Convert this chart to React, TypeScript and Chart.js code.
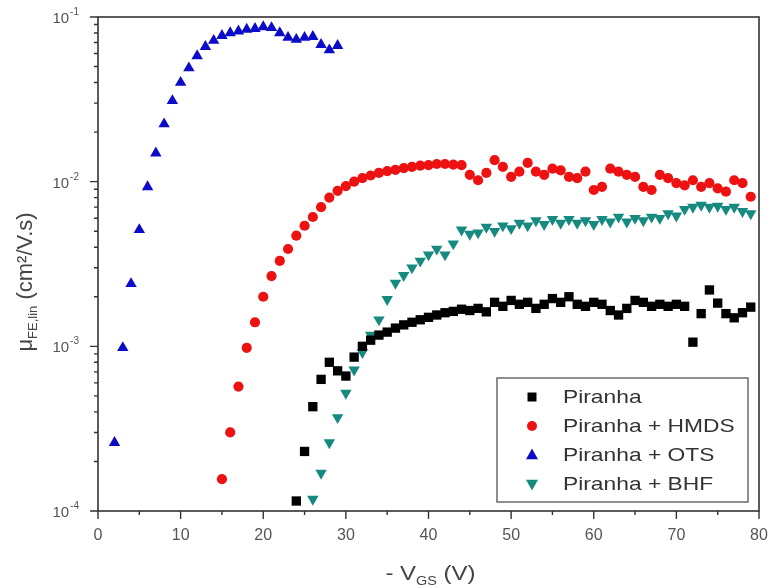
import { useEffect, useRef } from 'react';
import { Chart, registerables } from 'chart.js';

Chart.register(...registerables);

// ---------------- data ----------------
const seriesLabels = ['Piranha', 'Piranha + HMDS', 'Piranha + OTS', 'Piranha + BHF'];
const seriesColors = ['#000000', '#ee1111', '#0c0cc8', '#178a80'];

// Piranha + OTS (blue triangles)
const vgsOts = [2, 3, 4, 5, 6, 7, 8, 9, 10, 11, 12, 13, 14, 15, 16, 17, 18, 19, 20, 21, 22, 23, 24, 25, 26, 27, 28, 29];
const muOts = [2.6e-4, 9.8e-4, 2.4e-3, 5.1e-3, 9.3e-3, 0.0149, 0.0224, 0.031, 0.040, 0.049, 0.058, 0.066, 0.072, 0.077,
  0.080, 0.082, 0.084, 0.085, 0.087, 0.086, 0.080, 0.075, 0.073, 0.075, 0.076, 0.068, 0.063, 0.067];

// Piranha + HMDS (red circles)
const vgsHmds = [15, 16, 17, 18, 19, 20, 21, 22, 23, 24, 25, 26, 27, 28, 29, 30, 31, 32, 33, 34, 35, 36, 37, 38, 39, 40,
  41, 42, 43, 44, 45, 46, 47, 48, 49, 50, 51, 52, 53, 54, 55, 56, 57, 58, 59, 60, 61, 62, 63, 64, 65, 66, 67, 68, 69, 70,
  71, 72, 73, 74, 75, 76, 77, 78, 79];
const muHmds = [1.56e-4, 3.0e-4, 5.7e-4, 9.8e-4, 1.4e-3, 2.0e-3, 2.67e-3, 3.3e-3, 3.9e-3, 4.7e-3, 5.4e-3, 6.1e-3, 7.0e-3,
  8.0e-3, 8.8e-3, 9.4e-3, 0.0100, 0.0105, 0.0109, 0.0113, 0.0116, 0.0118, 0.0121, 0.0123, 0.0125, 0.0126,
  0.0128, 0.0128, 0.0127, 0.0126, 0.0110, 0.0102, 0.0113, 0.0135, 0.0123, 0.0107, 0.0115, 0.0130, 0.0115, 0.0110,
  0.0120, 0.0117, 0.0107, 0.0105, 0.0115, 0.0089, 0.0093, 0.0120, 0.0115, 0.0110, 0.0107, 0.0093, 0.0089, 0.0110,
  0.0105, 0.0098, 0.0095, 0.0102, 0.0093, 0.0098, 0.0091, 0.0087, 0.0102, 0.0098, 0.0081];

// Piranha + BHF (teal down triangles)
const vgsBhf = [26, 27, 28, 29, 30, 31, 32, 33, 34, 35, 36, 37, 38, 39, 40, 41, 42, 43, 44, 45, 46, 47, 48, 49, 50, 51,
  52, 53, 54, 55, 56, 57, 58, 59, 60, 61, 62, 63, 64, 65, 66, 67, 68, 69, 70, 71, 72, 73, 74, 75, 76, 77, 78, 79];
const muBhf = [1.18e-4, 1.7e-4, 2.6e-4, 3.7e-4, 5.2e-4, 7.2e-4, 9.2e-4, 1.17e-3, 1.45e-3, 1.93e-3, 2.42e-3, 2.7e-3,
  3.0e-3, 3.3e-3, 3.6e-3, 3.9e-3, 3.6e-3, 4.2e-3, 5.1e-3, 4.8e-3, 4.9e-3, 5.3e-3, 5.0e-3, 5.4e-3, 5.2e-3, 5.6e-3,
  5.4e-3, 5.8e-3, 5.5e-3, 5.9e-3, 5.6e-3, 5.9e-3, 5.6e-3, 5.8e-3, 5.5e-3, 5.9e-3, 5.7e-3, 6.1e-3, 5.7e-3, 6.0e-3,
  5.8e-3, 6.1e-3, 6.0e-3, 6.4e-3, 6.2e-3, 6.8e-3, 7.0e-3, 7.2e-3, 7.0e-3, 7.1e-3, 6.8e-3, 7.0e-3, 6.6e-3, 6.4e-3];

// Piranha (black squares)
const vgsPiranha = [24, 25, 26, 27, 28, 29, 30, 31, 32, 33, 34, 35, 36, 37, 38, 39, 40, 41, 42, 43, 44, 45, 46, 47, 48,
  49, 50, 51, 52, 53, 54, 55, 56, 57, 58, 59, 60, 61, 62, 63, 64, 65, 66, 67, 68, 69, 70, 71, 72, 73, 74, 75, 76, 77,
  78, 79];
const muPiranha = [1.15e-4, 2.3e-4, 4.3e-4, 6.3e-4, 8.0e-4, 7.1e-4, 6.6e-4, 8.6e-4, 1.0e-3, 1.09e-3, 1.17e-3, 1.22e-3,
  1.29e-3, 1.35e-3, 1.4e-3, 1.45e-3, 1.5e-3, 1.55e-3, 1.6e-3, 1.63e-3, 1.68e-3, 1.65e-3, 1.7e-3, 1.62e-3, 1.85e-3,
  1.75e-3, 1.9e-3, 1.8e-3, 1.85e-3, 1.7e-3, 1.8e-3, 1.95e-3, 1.85e-3, 2.0e-3, 1.8e-3, 1.75e-3, 1.85e-3, 1.8e-3,
  1.65e-3, 1.55e-3, 1.7e-3, 1.9e-3, 1.85e-3, 1.75e-3, 1.8e-3, 1.75e-3, 1.8e-3, 1.75e-3, 1.06e-3, 1.58e-3, 2.2e-3,
  1.83e-3, 1.58e-3, 1.49e-3, 1.6e-3, 1.73e-3];

// axes / ticks
const xMin = 0;
const xMax = 80;
const xMajorTicks = [0, 10, 20, 30, 40, 50, 60, 70, 80];
const xMinorTicks = [5, 15, 25, 35, 45, 55, 65, 75];
const yMin = 1e-4;
const yMax = 1e-1;
const yMajorTicks = [1e-4, 1e-3, 1e-2, 1e-1];
const yTickExponents = ['-4', '-3', '-2', '-1'];
const yMinorMultipliers = [2, 3, 4, 5, 6, 7, 8, 9];

const FONT = '"Liberation Sans", Arial, sans-serif';

function toPoints(xs: number[], ys: number[]) {
  return xs.map((x, i) => ({ x, y: ys[i] }));
}

function drawMarker(ctx: CanvasRenderingContext2D, style: string, x: number, y: number, r: number, color: string) {
  ctx.fillStyle = color;
  ctx.beginPath();
  if (style === 'rect') {
    ctx.rect(x - r, y - r, 2 * r, 2 * r);
  } else if (style === 'circle') {
    ctx.arc(x, y, r, 0, Math.PI * 2);
  } else if (style === 'up') {
    ctx.moveTo(x, y - r * 1.1);
    ctx.lineTo(x + r, y + r * 0.7);
    ctx.lineTo(x - r, y + r * 0.7);
    ctx.closePath();
  } else {
    ctx.moveTo(x, y + r * 1.1);
    ctx.lineTo(x + r, y - r * 0.7);
    ctx.lineTo(x - r, y - r * 0.7);
    ctx.closePath();
  }
  ctx.fill();
}

const decorPlugin = {
  id: 'decor',
  beforeDatasetsDraw(chart: any) {
    const { ctx, chartArea: a, scales } = chart;
    const xs = scales.x;
    const ys = scales.y;
    ctx.save();
    ctx.strokeStyle = '#333';
    ctx.lineWidth = 1.6;
    ctx.strokeRect(a.left, a.top, a.right - a.left, a.bottom - a.top);

    ctx.lineWidth = 1.4;
    ctx.beginPath();
    // y ticks (outward, left)
    yMajorTicks.forEach((v, i) => {
      const py = ys.getPixelForValue(v);
      ctx.moveTo(a.left - 8, py);
      ctx.lineTo(a.left, py);
      if (i < yMajorTicks.length - 1) {
        yMinorMultipliers.forEach((m) => {
          const pm = ys.getPixelForValue(v * m);
          ctx.moveTo(a.left - 4, pm);
          ctx.lineTo(a.left, pm);
        });
      }
    });
    // x ticks (outward, down)
    xMajorTicks.forEach((v) => {
      const px = xs.getPixelForValue(v);
      ctx.moveTo(px, a.bottom);
      ctx.lineTo(px, a.bottom + 8);
    });
    xMinorTicks.forEach((v) => {
      const px = xs.getPixelForValue(v);
      ctx.moveTo(px, a.bottom);
      ctx.lineTo(px, a.bottom + 4);
    });
    ctx.stroke();

    // y tick labels 10^n
    ctx.fillStyle = '#555';
    ctx.textBaseline = 'alphabetic';
    ctx.textAlign = 'left';
    yMajorTicks.forEach((v, i) => {
      const py = ys.getPixelForValue(v);
      ctx.font = `10px ${FONT}`;
      const supW = ctx.measureText(yTickExponents[i]).width;
      ctx.font = `15px ${FONT}`;
      const baseW = ctx.measureText('10').width;
      const right = a.left - 19;
      const x0 = right - supW - baseW - 1;
      ctx.fillText('10', x0, py + 6);
      ctx.font = `10px ${FONT}`;
      ctx.fillText(yTickExponents[i], x0 + baseW + 1, py - 2);
    });

    // x axis title: - V_GS (V)
    ctx.fillStyle = '#444';
    const sx = 1.2;
    ctx.font = `20px ${FONT}`;
    const p1 = '- V';
    const p3 = ' (V)';
    const w1 = ctx.measureText(p1).width;
    const w3 = ctx.measureText(p3).width;
    ctx.font = `12px ${FONT}`;
    const w2 = ctx.measureText('GS').width;
    const total = (w1 + w2 + w3) * sx;
    const cx = (a.left + a.right) / 2 + 2;
    const by = a.bottom + 69;
    ctx.save();
    ctx.translate(cx - total / 2, by);
    ctx.scale(sx, 1);
    ctx.font = `20px ${FONT}`;
    ctx.fillText(p1, 0, 0);
    ctx.font = `12px ${FONT}`;
    ctx.fillText('GS', w1, 5);
    ctx.font = `20px ${FONT}`;
    ctx.fillText(p3, w1 + w2, 0);
    ctx.restore();

    // y axis title: μ_FE,lin (cm²/V.s)
    ctx.save();
    ctx.translate(32, (a.top + a.bottom) / 2 + 18);
    ctx.rotate(-Math.PI / 2);
    ctx.font = `22px ${FONT}`;
    const q1 = 'μ';
    const q3 = ' (cm²/V.s)';
    const v1 = ctx.measureText(q1).width;
    const v3 = ctx.measureText(q3).width;
    ctx.font = `13px ${FONT}`;
    const v2 = ctx.measureText('FE,lin').width;
    const tot = v1 + v2 + v3;
    ctx.font = `22px ${FONT}`;
    ctx.fillText(q1, -tot / 2, 0);
    ctx.font = `13px ${FONT}`;
    ctx.fillText('FE,lin', -tot / 2 + v1, 5);
    ctx.font = `22px ${FONT}`;
    ctx.fillText(q3, -tot / 2 + v1 + v2, 0);
    ctx.restore();

    ctx.restore();
  },
  afterDraw(chart: any) {
    const { ctx, chartArea: a } = chart;
    const bw = 251;
    const bh = 124;
    const bx = a.right - 11 - bw;
    const by = a.bottom - 9 - bh;
    ctx.save();
    ctx.fillStyle = '#ffffff';
    ctx.fillRect(bx, by, bw, bh);
    ctx.strokeStyle = '#555';
    ctx.lineWidth = 1.3;
    ctx.strokeRect(bx, by, bw, bh);
    const styles = ['rect', 'circle', 'up', 'down'];
    const sizes = [4.5, 5, 6, 6];
    seriesLabels.forEach((label, i) => {
      const cy = by + 19 + i * 29;
      drawMarker(ctx, styles[i], bx + 35, cy, sizes[i], seriesColors[i]);
      ctx.save();
      ctx.translate(bx + 66, cy);
      ctx.scale(1.2, 1);
      ctx.fillStyle = '#333';
      ctx.font = `19px ${FONT}`;
      ctx.textBaseline = 'middle';
      ctx.textAlign = 'left';
      ctx.fillText(label, 0, 1);
      ctx.restore();
    });
    ctx.restore();
  },
};

export default function App() {
  const canvasRef = useRef<HTMLCanvasElement | null>(null);

  useEffect(() => {
    if (!canvasRef.current) return;
    const common = { showLine: false, pointBorderWidth: 0, borderWidth: 0 };
    const chart = new Chart(canvasRef.current, {
      type: 'scatter',
      data: {
        datasets: [
          {
            ...common,
            label: seriesLabels[0],
            data: toPoints(vgsPiranha, muPiranha),
            pointStyle: 'rect',
            pointRadius: 6.6,
            backgroundColor: seriesColors[0],
            borderColor: seriesColors[0],
          },
          {
            ...common,
            label: seriesLabels[1],
            data: toPoints(vgsHmds, muHmds),
            pointStyle: 'circle',
            pointRadius: 5.1,
            backgroundColor: seriesColors[1],
            borderColor: seriesColors[1],
          },
          {
            ...common,
            label: seriesLabels[2],
            data: toPoints(vgsOts, muOts),
            pointStyle: 'triangle',
            pointRadius: 6.6,
            backgroundColor: seriesColors[2],
            borderColor: seriesColors[2],
          },
          {
            ...common,
            label: seriesLabels[3],
            data: toPoints(vgsBhf, muBhf),
            pointStyle: 'triangle',
            rotation: 180,
            pointRadius: 6.6,
            backgroundColor: seriesColors[3],
            borderColor: seriesColors[3],
          },
        ],
      } as any,
      options: {
        responsive: false,
        animation: false,
        events: [],
        layout: { padding: { left: 0, right: 12, top: 17, bottom: 0 } },
        plugins: {
          legend: { display: false },
          tooltip: { enabled: false },
          title: { display: false },
        },
        scales: {
          x: {
            type: 'linear',
            position: 'bottom',
            min: xMin,
            max: xMax,
            afterBuildTicks: (scale: any) => {
              scale.ticks = xMajorTicks.map((v) => ({ value: v }));
            },
            ticks: {
              color: '#555',
              font: { family: FONT, size: 16 },
              padding: 15,
              maxRotation: 0,
              autoSkip: false,
            },
            grid: { display: false, drawTicks: false },
            border: { display: false },
            afterFit: (scale: any) => {
              scale.height = 77;
              scale.paddingLeft = 0;
              scale.paddingRight = 0;
            },
          },
          y: {
            type: 'logarithmic',
            min: yMin,
            max: yMax,
            ticks: { display: false },
            grid: { display: false, drawTicks: false },
            border: { display: false },
            afterFit: (scale: any) => {
              scale.width = 98;
              scale.paddingTop = 0;
              scale.paddingBottom = 0;
            },
          },
        },
      } as any,
      plugins: [decorPlugin],
    });
    return () => chart.destroy();
  }, []);

  return (
    <div style={{ position: 'fixed', left: 0, top: 0, width: 771, height: 588, background: '#fff' }}>
      <canvas ref={canvasRef} width={771} height={588} style={{ width: 771, height: 588 }} />
    </div>
  );
}
